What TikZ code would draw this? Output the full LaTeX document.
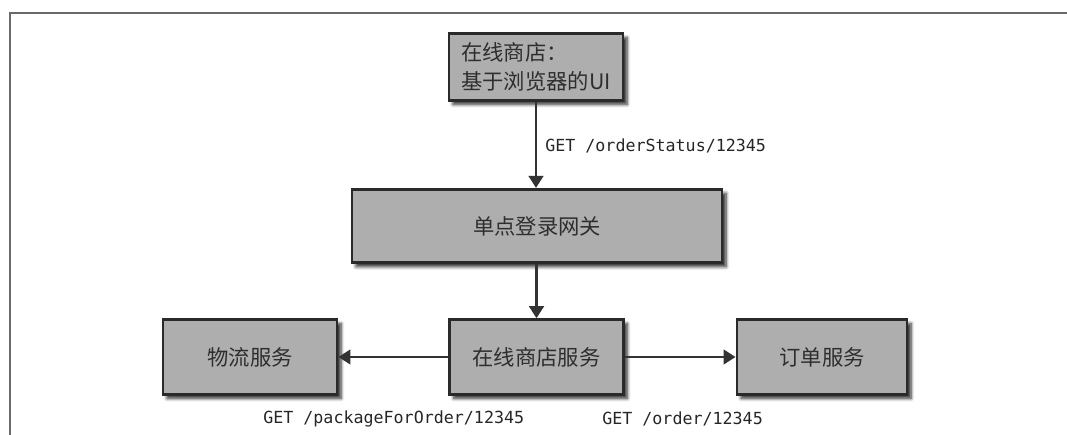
\documentclass[tikz,border=0pt]{standalone}
\usepackage{fontspec}
\newfontfamily\cjk{Noto Sans CJK SC}
\newfontfamily\monof{DejaVu Sans Mono}
\usetikzlibrary{arrows.meta,shadows.blur}
\definecolor{boxfill}{HTML}{AEAEAE}
\definecolor{boxline}{HTML}{2A2A2A}
\definecolor{framec}{HTML}{6A6A6A}
\tikzset{
  svc/.style={draw=boxline, line width=2.2pt, fill=boxfill, inner sep=0pt,
    font=\cjk\fontsize{16}{22}\selectfont, text=black!82,
    blur shadow={shadow xshift=3pt, shadow yshift=-3pt, shadow blur steps=6, shadow blur radius=2.5pt, shadow opacity=85}},
  conn/.style={draw=black!80, line width=1.9pt, -{Triangle[length=9pt,width=11pt]}},
  lbl/.style={font=\monof\fontsize{12.5}{14}\selectfont, text=black!85, inner sep=0pt, anchor=west},
}
\begin{document}
\begin{tikzpicture}[x=0.75pt,y=-0.75pt]
\useasboundingbox (0,0) rectangle (1067,435);
\draw[framec, line width=1.2pt] (10,435) -- (10,13) -- (1067,13);
\node[svc, minimum width=130.5pt, minimum height=50pt, align=left] (ui) at (536,67)
  {在线商店：\\基于浏览器的UI};
\node[svc, minimum width=277.5pt, minimum height=55pt] (gw) at (537,226) {单点登录网关};
\node[svc, minimum width=130pt, minimum height=56pt] (shop) at (536.5,357) {在线商店服务};
\node[svc, minimum width=130.5pt, minimum height=56pt] (ship) at (250,357) {物流服务};
\node[svc, minimum width=127.5pt, minimum height=56pt] (order) at (822,357) {订单服务};
\draw[conn] (ui.south) -- (ui.south |- gw.north);
\draw[conn] (gw.south -| shop.north) -- (shop.north);
\draw[conn] (shop.west) -- (ship.east);
\draw[conn] (shop.east) -- (order.west);
\node[lbl] (l1) at (545,146) {GET /orderStatus/12345};
\node[lbl] (l2) at (263,419) {GET /packageForOrder/12345};
\node[lbl] (l3) at (602,419) {GET /order/12345};
\end{tikzpicture}
\end{document}
